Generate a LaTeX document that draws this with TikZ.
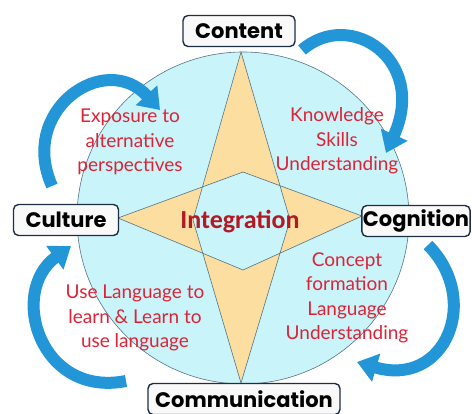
\documentclass[tikz,border=0pt]{standalone}
\usepackage{fontspec}
\usetikzlibrary{arrows.meta}
\newfontfamily\labelfont{Poppins}
\newfontfamily\handfont{Lato}
\newfontfamily\midfont{Carlito}
\definecolor{wheelfill}{RGB}{200,244,250}
\definecolor{starfill}{RGB}{251,222,160}
\definecolor{edgegray}{RGB}{85,115,135}
\definecolor{boxnavy}{RGB}{30,45,70}
\definecolor{handred}{RGB}{222,35,55}
\definecolor{midred}{RGB}{180,25,35}
\definecolor{loopblue}{RGB}{35,150,215}
\begin{document}
\begin{tikzpicture}[x=1pt, y=1pt,
        pillar/.style={draw=boxnavy, line width=1.4pt, rounded corners=5pt, fill=gray!5, minimum height=31pt, inner sep=1pt, font=\labelfont\bfseries\fontsize{21}{21}\selectfont, text=black},
        note/.style={align=center, text=handred, font=\handfont\fontsize{19}{24.5}\selectfont},
        loop/.style={loopblue, line width=12pt, -{Triangle[width=28pt, length=20pt]}}
    ]
        \useasboundingbox (0,0) rectangle (472,-414);

        % Wheel and star
        \fill[wheelfill, draw=edgegray, line width=0.6pt] (243,-218) circle (166);
        \filldraw[starfill, draw=edgegray, line width=0.6pt, even odd rule]
            (241,-52) -- (193,-220) -- (241,-383) -- (290,-220) -- cycle
            (118,-218) -- (243,-172) -- (362,-216) -- (243,-270) -- cycle;

        % Four curved arrows
        \coordinate (a1s) at (52,-186);
        \coordinate (a1e) at (160,-110);
        \coordinate (a2s) at (302,-50);
        \coordinate (a2e) at (386,-153);
        \coordinate (a3s) at (428,-245);
        \coordinate (a3e) at (357,-362);
        \coordinate (a4s) at (126,-381);
        \coordinate (a4e) at (71,-246);
        \draw[loop] (a1s) .. controls (18,-110) and (105,-50) .. (a1e);
        \draw[loop] (a2s) .. controls (350,-8) and (428,-60) .. (a2e);
        \draw[loop] (a3s) .. controls (482,-300) and (445,-388) .. (a3e);
        \draw[loop] (a4s) .. controls (40,-398) and (8,-292) .. (a4e);

        % Labels of the four Cs
        \node[pillar, minimum width=112pt] (content) at (239,-31) {Content};
        \node[pillar, minimum width=105pt] (culture) at (66,-220) {Culture};
        \node[pillar, minimum width=108pt] (cognition) at (416,-221) {Cognition};
        \node[pillar, minimum width=192pt] (communication) at (244,-399) {Communication};

        % Notes
        \node[font=\midfont\bfseries\fontsize{26}{26}\selectfont, text=midred] (integration) at (240,-222) {Integration};
        \node[note] (exposure) at (130,-142) {Exposure to\\alternative\\perspectives};
        \node[note] (knowledge) at (337,-141) {Knowledge\\Skills\\Understanding};
        \node[note] (uselang) at (135,-318) {Use Language to\\learn \& Learn to\\use language};
        \node[note] (concept) at (347,-298) {Concept\\formation\\Language\\Understanding};

    \end{tikzpicture}
\end{document}
